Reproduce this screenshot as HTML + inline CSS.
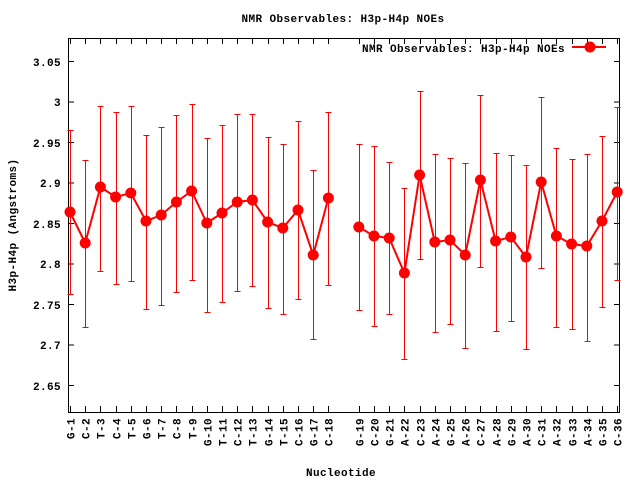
<!DOCTYPE html>
<html><head><meta charset="utf-8"><style>
html,body{margin:0;padding:0;background:#fff;}
svg{display:block;font-family:"Liberation Mono","DejaVu Sans Mono",monospace;font-weight:bold;font-size:11px;letter-spacing:0.4px;}
</style></head><body>
<svg width="640" height="480" xmlns="http://www.w3.org/2000/svg">
<rect width="640" height="480" fill="#fff"/>
<text x="343" y="22" text-anchor="middle">NMR Observables: H3p-H4p NOEs</text>
<text x="341" y="476" text-anchor="middle">Nucleotide</text>
<text transform="translate(16,225) rotate(-90)" text-anchor="middle">H3p-H4p (Angstroms)</text>
<g id="yt" text-anchor="end">
<text x="61" y="66">3.05</text>
<text x="61" y="106">3</text>
<text x="61" y="147">2.95</text>
<text x="61" y="187">2.9</text>
<text x="61" y="228">2.85</text>
<text x="61" y="268">2.8</text>
<text x="61" y="309">2.75</text>
<text x="61" y="349">2.7</text>
<text x="61" y="390">2.65</text>
</g>
<g stroke="#000" stroke-width="1" id="ticks"></g>
<g id="xl"></g>
<rect x="68.5" y="38.5" width="551" height="374" fill="none" stroke="#000" stroke-width="1"/>
<g id="data"></g>
<text x="565" y="52" text-anchor="end">NMR Observables: H3p-H4p NOEs</text>
<line x1="572" y1="47" x2="606" y2="47" stroke="#f00" stroke-width="2"/>
<circle cx="590" cy="47" r="5.5" fill="#f00"/>
<script>
var names=["G-1","C-2","T-3","C-4","T-5","G-6","T-7","C-8","T-9","G-10","T-11","C-12","T-13","G-14","T-15","C-16","G-17","C-18",null,"G-19","C-20","G-21","A-22","C-23","A-24","G-25","A-26","C-27","A-28","G-29","A-30","C-31","A-32","G-33","A-34","G-35","C-36"];
var d={0:[212,130,294],1:[243,160,327],2:[187,106,271],3:[197,112,284],4:[193,106,281],5:[221,135,309],6:[215,127,305],7:[202,115,292],8:[191,104,280],9:[223,138,312],10:[213,125,302],11:[202,114,291],12:[200,114,286],13:[222,137,308],14:[228,144,314],15:[210,121,299],16:[255,170,339],17:[198,112,285],
19:[227,144,310],20:[236,146,326],21:[238,162,314],22:[273,188,359],23:[175,91,259],24:[242,154,332],25:[240,158,324],26:[255,163,348],27:[180,95,267],28:[241,153,331],29:[237,155,321],30:[257,165,349],31:[182,97,268],32:[236,148,327],33:[244,159,329],34:[246,154,341],35:[221,136,307],36:[192,107,280]};
var NS="http://www.w3.org/2000/svg";
function el(p,t,a,txt){var e=document.createElementNS(NS,t);for(var k in a)e.setAttribute(k,a[k]);if(txt)e.textContent=txt;p.appendChild(e);return e;}
var tk=document.getElementById('ticks'),xl=document.getElementById('xl'),dg=document.getElementById('data');
function X(i){return 70+i*15.2;}
var ys=[61.5,102,142.5,183,223.5,264,304.5,345,385.5];
ys.forEach(function(y){el(tk,'line',{x1:68,y1:y,x2:74,y2:y});el(tk,'line',{x1:614,y1:y,x2:620,y2:y});});
names.forEach(function(n,i){if(!n)return;var x=Math.round(X(i))+0.5;
el(tk,'line',{x1:x,y1:412,x2:x,y2:406});el(tk,'line',{x1:x,y1:38,x2:x,y2:44});
el(xl,'text',{transform:'translate('+(x+4)+',418) rotate(-90)','text-anchor':'end'},n);});
[[0,17],[19,36]].forEach(function(r){var pts=[];for(var i=r[0];i<=r[1];i++)pts.push(X(i)+','+d[i][0]);
el(dg,'polyline',{points:pts.join(' '),fill:'none',stroke:'#f00','stroke-width':2});});
for(var i in d){var x=Math.round(X(+i))+0.5,v=d[i];
el(dg,'line',{x1:x,y1:v[1],x2:x,y2:v[2],stroke:'#f00','stroke-width':1});
el(dg,'line',{x1:x-3,y1:v[1]+.5,x2:x+3,y2:v[1]+.5,stroke:'#f00','stroke-width':1});
el(dg,'line',{x1:x-3,y1:v[2]+.5,x2:x+3,y2:v[2]+.5,stroke:'#f00','stroke-width':1});
el(dg,'circle',{cx:X(+i),cy:v[0],r:5.5,fill:'#f00'});}
</script>
</svg>
</body></html>
